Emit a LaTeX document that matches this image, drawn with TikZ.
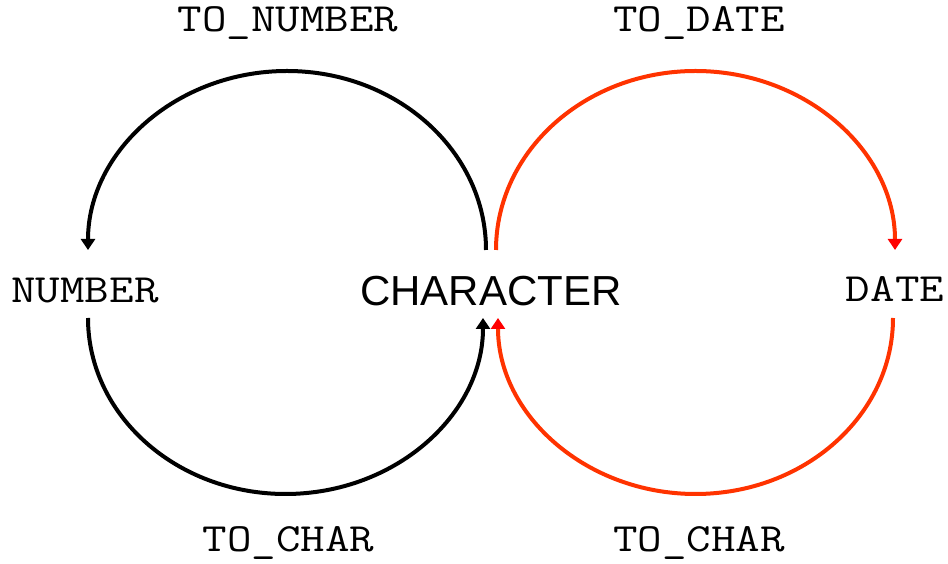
\documentclass[tikz,border=0pt]{standalone}
\usepackage{fontspec}
\usepackage{graphicx}
\setmainfont{Liberation Sans}
\usetikzlibrary{arrows.meta}
\definecolor{arcred}{RGB}{255,51,0}
\newcommand{\monotxt}[1]{\scalebox{1.19}[1]{\ttfamily\fontsize{40}{48}\selectfont #1}}
\tikzset{
  x=1pt,y=1pt,
  mono/.style={inner sep=0pt,anchor=base},
  sans/.style={inner sep=0pt,anchor=base,font=\fontsize{42}{48}\selectfont},
  blackarc/.style={line width=4pt,draw=black,-{Triangle[width=14pt,length=11pt,color=black]}},
  redarc/.style={line width=4pt,draw=arcred,-{Triangle[width=14pt,length=11pt,color=red]}}
}
\begin{document}
\begin{tikzpicture}
\useasboundingbox (0,0) rectangle (948,564);
\node[mono] (num) at (85,261) {\monotxt{NUMBER}};
\node[sans] (char) at (491,258) {CHARACTER};
\node[mono] (date) at (895,262) {\monotxt{DATE}};
\node[mono] (tonum) at (288,532) {\monotxt{TO\_NUMBER}};
\node[mono] (todate) at (699,532) {\monotxt{TO\_DATE}};
\node[mono] (tochar1) at (288.5,12) {\monotxt{TO\_CHAR}};
\node[mono] (tochar2) at (699,12) {\monotxt{TO\_CHAR}};
% arc start points
\coordinate (cu1) at (486,314);
\coordinate (nl) at (88,246);
\coordinate (cu2) at (496,314);
\coordinate (dl) at (893,246);
% upper black: CHARACTER -> NUMBER
\draw[blackarc] (cu1) arc[start angle=0,end angle=180,x radius=199,y radius=179];
% lower black: NUMBER -> CHARACTER
\draw[blackarc] (nl) arc[start angle=180,end angle=360,x radius=197.5,y radius=176];
% upper red: CHARACTER -> DATE
\draw[redarc] (cu2) arc[start angle=180,end angle=0,x radius=199.5,y radius=179];
% lower red: DATE -> CHARACTER
\draw[redarc] (dl) arc[start angle=360,end angle=180,x radius=197.5,y radius=176];
\end{tikzpicture}
\end{document}
